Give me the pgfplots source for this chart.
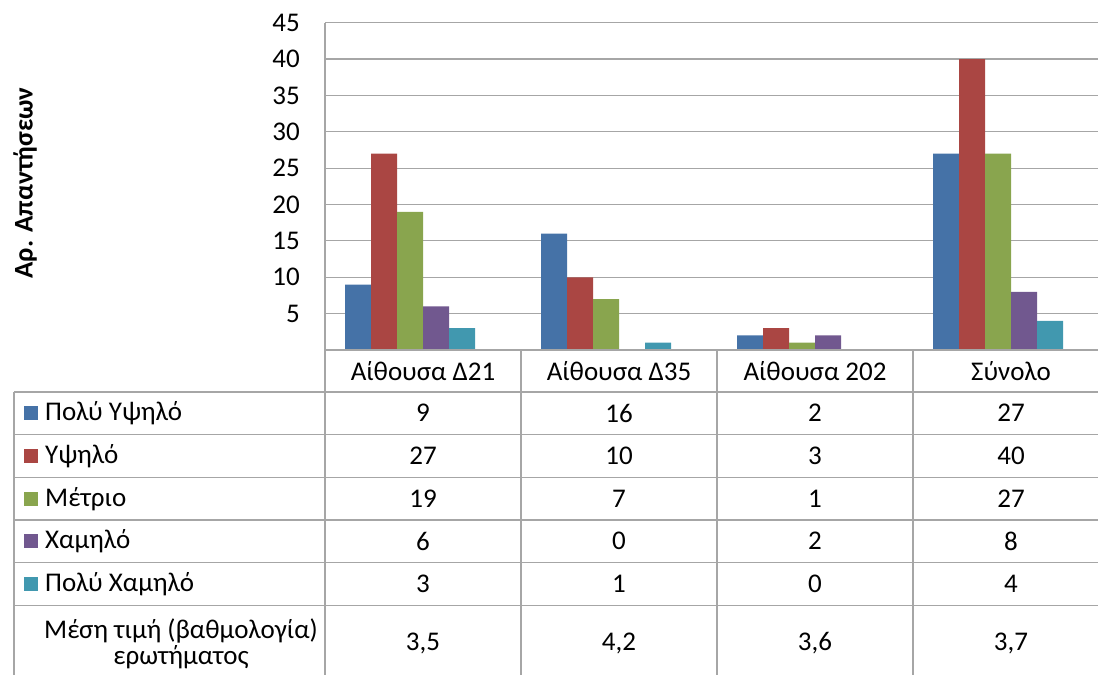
\documentclass[border=0pt]{standalone}
\usepackage{fontspec}
\setmainfont{Carlito}
\usepackage{pgfplots}
\pgfplotsset{compat=1.18}
\definecolor{c1}{RGB}{69,114,167}
\definecolor{c2}{RGB}{170,70,67}
\definecolor{c3}{RGB}{137,165,78}
\definecolor{c4}{RGB}{113,88,143}
\definecolor{c5}{RGB}{65,152,175}
\definecolor{gridgray}{RGB}{166,166,166}
\newcommand{\fs}{\fontsize{27}{26}\selectfont}
\begin{document}
\begin{tikzpicture}[x=1pt,y=1pt]
\begin{axis}[
  at={(325pt,325pt)}, anchor=south west,
  scale only axis, width=784pt, height=327.3pt,
  xmin=-0.5, xmax=3.5, ymin=0, ymax=45,
  ytick={5,10,...,45}, xtick=\empty,
  ymajorgrids, grid style={draw=gridgray, line width=1.2pt},
  axis line style={draw=none}, major tick length=0pt,
  /pgf/number format/assume math mode=true,
  yticklabel style={font=\fs, anchor=east, inner sep=0pt, xshift=-25pt},
  ybar=0pt, bar width=26pt,
]
\addplot[fill=c1, draw=none] coordinates {(0,9) (1,16) (2,2) (3,27)};
\addplot[fill=c2, draw=none] coordinates {(0,27) (1,10) (2,3) (3,40)};
\addplot[fill=c3, draw=none] coordinates {(0,19) (1,7) (2,1) (3,27)};
\addplot[fill=c4, draw=none] coordinates {(0,6) (1,0) (2,2) (3,8)};
\addplot[fill=c5, draw=none] coordinates {(0,3) (1,1) (2,0) (3,4)};
\addplot[fill=none, draw=none] coordinates {(0,3.5) (1,4.2) (2,3.6) (3,3.7)};
\end{axis}
% table lines
\begin{scope}[draw=gridgray, line width=1.2pt]
\draw (325,652.3) -- (325,0);
\draw (521,325) -- (521,0);
\draw (717,325) -- (717,0);
\draw (913,325) -- (913,0);
\draw (14,283) -- (14,0);
\draw (325,325) -- (1120,325);
\foreach \yy in {283,240.3,197.7,155,112.3,69.7} {\draw (14,\yy) -- (1120,\yy);}
\end{scope}
% category header
\foreach \xx/\lab in {423/{Αίθουσα Δ21},619/{Αίθουσα Δ35},815/{Αίθουσα 202},1011/{Σύνολο}}
  {\node[font=\fs, inner sep=0pt] at (\xx,304) {\lab};}
% row labels with keys
\foreach \yy/\col/\lab in {262/c1/{Πολύ Υψηλό},219/c2/{Υψηλό},176/c3/{Μέτριο},134/c4/{Χαμηλό},91/c5/{Πολύ Χαμηλό}}
  {\fill[\col] (24,\yy-7) rectangle (38,\yy+7);
   \node[font=\fs, anchor=west, inner sep=0pt] at (45,\yy) {\lab};}
\node[font=\fs, align=center, inner sep=0pt] at (181,31) {Μέση τιμή (βαθμολογία)\\ερωτήματος};
% values
\foreach \a/\b/\c/\d/\yy in {9/16/2/27/262, 27/10/3/40/219, 19/7/1/27/176, 6/0/2/8/134, 3/1/0/4/91, {3,5}/{4,2}/{3,6}/{3,7}/32}
  {\node[font=\fs, inner sep=0pt] at (423,\yy) {\a};
   \node[font=\fs, inner sep=0pt] at (619,\yy) {\b};
   \node[font=\fs, inner sep=0pt] at (815,\yy) {\c};
   \node[font=\fs, inner sep=0pt] at (1011,\yy) {\d};}
% y label
\node[font=\fs\bfseries, rotate=90, inner sep=0pt] at (25,492) {Αρ. Απαντήσεων};
\pgfresetboundingbox
\path[use as bounding box] (0,0) rectangle (1098,675);
\end{tikzpicture}
\end{document}
